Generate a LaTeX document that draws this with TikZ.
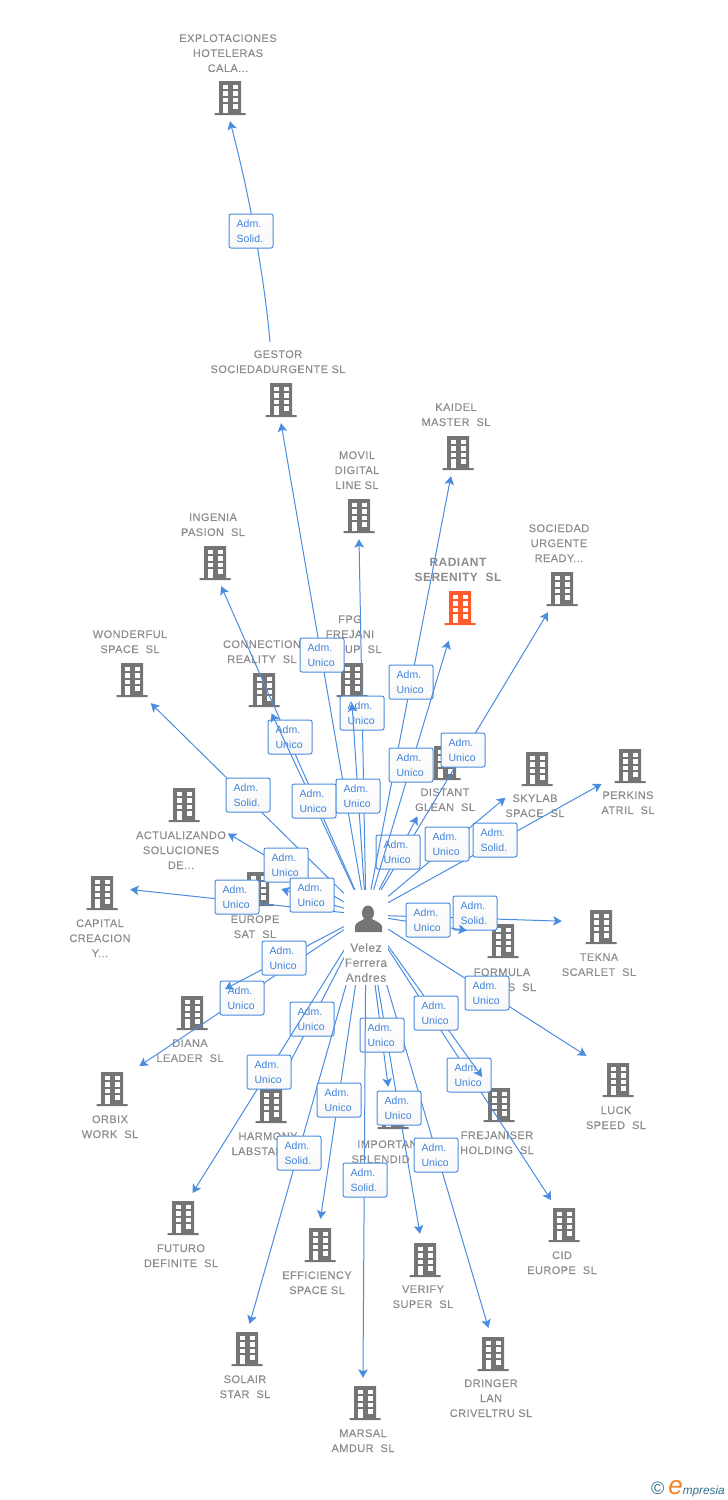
\documentclass[tikz,border=0pt]{standalone}
\usepackage{fontspec}
\usetikzlibrary{arrows.meta}
\setmainfont{Liberation Sans}
\newfontfamily\namefont[LetterSpace=4,FakeBold=0.12]{Liberation Sans}
\newfontfamily\radiantfont[LetterSpace=4]{Liberation Sans}
\newfontfamily\boxfont[LetterSpace=1]{Liberation Sans}
\definecolor{linkblue}{HTML}{4A8CE0}
\definecolor{boxtext}{HTML}{3F83DC}
\definecolor{namegray}{HTML}{8C8C8C}
\definecolor{iconorange}{HTML}{FF5A2C}
\definecolor{icongray}{HTML}{757575}
\definecolor{logoteal}{HTML}{2F6E8E}
\definecolor{logoorange}{HTML}{F58220}
\tikzset{
  building/.style={rectangle,minimum width=46pt,minimum height=46pt,inner sep=0pt,
    path picture={
      \begin{scope}[shift={(path picture bounding box.center)}]
        \fill[#1] (-11,-17) rectangle (11,15) (-15.5,15) rectangle (15.5,17);
        \foreach \wy in {-13.5,-7,-0.5,6}
          \foreach \wx in {-7.5,2.5}
            \fill[white] (\wx,\wy) rectangle ++(5,4.5);
        \fill[white] (-7.5,6) rectangle (-2.5,15);
      \end{scope}
    }},
  building/.default=icongray,
  namelabel/.style={font=\namefont\fontsize{11}{15}\selectfont,text=namegray,align=center,inner sep=0pt,yshift=-0.2pt},
  link/.style={draw=linkblue,line width=1pt,-{Stealth[length=8.5pt,width=9.5pt,inset=2pt]}},
  admbox/.style={rectangle,rounded corners=2pt,draw=linkblue,line width=1pt,top color=white,bottom color=black!3,
    minimum height=34pt,text width=29pt,inner xsep=7.5pt,inner ysep=0pt,align=left,text=boxtext,
    font=\boxfont\fontsize{10.5}{15}\selectfont},
}
\begin{document}
\begin{tikzpicture}[x=1pt,y=-1pt]
    \useasboundingbox (0,0) rectangle (728,1500);

    % companies
    \node[building] (explotaciones) at (230,98) {};
    \node[building] (gestor) at (281,400) {};
    \node[building] (kaidel) at (458,453) {};
    \node[building] (movil) at (359,516) {};
    \node[building] (ingenia) at (215,563) {};
    \node[building=iconorange] (radiant) at (460,608) {};
    \node[building] (sociedad) at (562,589) {};
    \node[building] (wonderful) at (132,680) {};
    \node[building] (connection) at (264,690) {};
    \node[building] (fpg) at (352,680) {};
    \node[building] (distant) at (445,763) {};
    \node[building] (skylab) at (537,769) {};
    \node[building] (perkins) at (630,766) {};
    \node[building] (actualizando) at (184,805) {};
    \node[building] (capital) at (102,893) {};
    \node[building] (europe) at (258,889) {};
    \node[building] (formula) at (503,941) {};
    \node[building] (tekna) at (601,927) {};
    \node[building] (diana) at (192,1013) {};
    \node[building] (orbix) at (112,1089) {};
    \node[building] (luck) at (618,1080) {};
    \node[building] (harmony) at (271,1106) {};
    \node[building] (frejaniser) at (499,1105) {};
    \node[building] (important) at (393,1112) {};
    \node[building] (futuro) at (183,1218) {};
    \node[building] (efficiency) at (320,1245) {};
    \node[building] (verify) at (425,1260) {};
    \node[building] (cid) at (564,1225) {};
    \node[building] (solair) at (247,1349) {};
    \node[building] (dringer) at (493,1354) {};
    \node[building] (marsal) at (365,1403) {};

    \node[namelabel] (explotacionesname) at (228,53) {EXPLOTACIONES\\HOTELERAS\\CALA...};
    \node[namelabel] (gestorname) at (278,361.5) {GESTOR\\SOCIEDADURGENTE~SL};
    \node[namelabel] (kaidelname) at (456,414.5) {KAIDEL\\MASTER~~SL};
    \node[namelabel] (movilname) at (357,470) {MOVIL\\DIGITAL\\LINE~SL};
    \node[namelabel] (ingenianame) at (213,524.5) {INGENIA\\PASION~~SL};
    \node[namelabel,font=\radiantfont\bfseries\fontsize{12}{15}\selectfont] (radiantname) at (458,569.5) {RADIANT\\SERENITY~~SL};
    \node[namelabel] (sociedadname) at (559,543) {SOCIEDAD\\URGENTE\\READY...};
    \node[namelabel] (wonderfulname) at (130,641.5) {WONDERFUL\\SPACE~~SL};
    \node[namelabel] (connectionname) at (262,651.5) {CONNECTION\\REALITY~~SL};
    \node[namelabel] (fpgname) at (350,634) {FPG\\FREJANI\\GROUP~~SL};
    \node[namelabel] (distantname) at (445,799.5) {DISTANT\\GLEAN~~SL};
    \node[namelabel] (skylabname) at (535,805.5) {SKYLAB\\SPACE~~SL};
    \node[namelabel] (perkinsname) at (628,802.5) {PERKINS\\ATRIL~~SL};
    \node[namelabel] (actualizandoname) at (181,850) {ACTUALIZANDO\\SOLUCIONES\\DE...};
    \node[namelabel] (capitalname) at (100,938) {CAPITAL\\CREACION\\Y...};
    \node[namelabel] (europename) at (255,926.5) {EUROPE\\SAT~~SL};
    \node[namelabel] (formulaname) at (502,979.5) {FORMULA\\TRENDS~~SL};
    \node[namelabel] (teknaname) at (599,964.5) {TEKNA\\SCARLET~~SL};
    \node[namelabel] (diananame) at (190,1050.5) {DIANA\\LEADER~~SL};
    \node[namelabel] (orbixname) at (110,1126.5) {ORBIX\\WORK~~SL};
    \node[namelabel] (luckname) at (616,1117.5) {LUCK\\SPEED~~SL};
    \node[namelabel] (harmonyname) at (268,1143.5) {HARMONY\\LABSTAR~~SL};
    \node[namelabel] (frejanisername) at (497,1142.5) {FREJANISER\\HOLDING~~SL};
    \node[namelabel] (importantname) at (391,1151.5) {IMPORTANT\\SPLENDID~~SL};
    \node[namelabel] (futuroname) at (181,1255.5) {FUTURO\\DEFINITE~~SL};
    \node[namelabel] (efficiencyname) at (317,1282.5) {EFFICIENCY\\SPACE~SL};
    \node[namelabel] (verifyname) at (423,1296.5) {VERIFY\\SUPER~~SL};
    \node[namelabel] (cidname) at (562,1262.5) {CID\\EUROPE~~SL};
    \node[namelabel] (solairname) at (245,1386.5) {SOLAIR\\STAR~~SL};
    \node[namelabel] (dringername) at (491,1398) {DRINGER\\LAN\\CRIVELTRU~SL};
    \node[namelabel] (marsalname) at (363,1440.5) {MARSAL\\AMDUR~~SL};

    \node[rectangle,minimum width=44pt,minimum height=50pt,inner sep=0pt] (velez) at (366,915) {};

    % links, each one with its box on top
    \coordinate (gestortop) at (270,342);
    \draw[link] (gestortop) .. controls (265,285) and (252,205) .. (explotaciones.south);
    \node[admbox] (explotacionesbox) at (251,231) {Adm.\\Solid.};

    \draw[link] (velez) -- (gestor.south);
    \node[admbox] (gestorbox) at (322,655) {Adm.\\Unico};
    \draw[link] (velez) -- (movil.south);
    \node[admbox] (movilbox) at (362,713) {Adm.\\Unico};
    \draw[link] (velez) -- (ingenia.285);
    \node[admbox] (ingeniabox) at (290,737) {Adm.\\Unico};
    \draw[link] (velez) -- (connection.288);
    \node[admbox] (connectionbox) at (314,801) {Adm.\\Unico};
    \draw[link] (velez) -- (fpg.south);
    \node[admbox] (fpgbox) at (358,796) {Adm.\\Unico};
    \draw[link] (velez) -- (wonderful.309);
    \node[admbox] (wonderfulbox) at (248,795) {Adm.\\Solid.};

    \draw[link] (velez) -- (sociedad.239);
    \node[admbox] (sociedadbox) at (463,750) {Adm.\\Unico};
    \draw[link,shorten >=34pt] (velez) -- (distant.243);
    \node[admbox] (distantbox) at (398,852) {Adm.\\Unico};
    \draw[link] (velez) -- (kaidel.253);
    \node[admbox] (kaidelbox) at (411,682) {Adm.\\Unico};
    \draw[link,shorten >=10pt] (velez) -- (radiant.250);
    \node[admbox] (radiantbox) at (411,765) {Adm.\\Unico};
    \draw[link,shorten >=6pt] (velez) -- (perkins.213);
    \node[admbox] (perkinsbox) at (495,840) {Adm.\\Solid.};
    \draw[link,shorten >=11pt] (velez) -- (skylab.223);
    \node[admbox] (skylabbox) at (447,844) {Adm.\\Unico};

    \draw[link,shorten >=24pt] (velez) -- (actualizando.325);
    \node[admbox] (actualizandobox) at (286,865) {Adm.\\Unico};
    \draw[link,shorten >=5pt] (velez) -- (capital.10);
    \node[admbox] (capitalbox) at (237,897) {Adm.\\Unico};
    \draw[link] (velez) -- (europe.east);
    \node[admbox] (europebox) at (312,895) {Adm.\\Unico};

    \draw[link,shorten >=16pt] (velez) -- (tekna.167);
    \node[admbox] (teknabox) at (475,913) {Adm.\\Solid.};
    \draw[link,shorten >=13pt] (velez) -- (formula.160);
    \node[admbox] (formulabox) at (428,920) {Adm.\\Unico};
    \draw[link,shorten >=10pt] (velez) -- (luck.141);
    \node[admbox] (luckbox) at (487,993) {Adm.\\Unico};
    \draw[link,shorten >=2pt] (velez) -- (cid.117);
    \node[admbox] (cidbox) at (469,1075) {Adm.\\Unico};
    \draw[link,shorten >=6pt] (velez) -- (frejaniser.120);
    \node[admbox] (frejaniserbox) at (436,1013) {Adm.\\Unico};

    \draw[link,shorten >=5pt] (velez) -- (orbix.41);
    \node[admbox] (orbixbox) at (242,998) {Adm.\\Unico};
    \draw[link,shorten >=11pt] (velez) -- (diana.39);
    \node[admbox] (dianabox) at (284,958) {Adm.\\Unico};
    \draw[link] (velez) -- (harmony.70);
    \node[admbox] (harmonybox) at (312,1019) {Adm.\\Unico};
    \draw[link,shorten >=2pt] (velez) -- (futuro.70);
    \node[admbox] (futurobox) at (269,1072) {Adm.\\Unico};
    \draw[link,shorten >=2pt] (velez) -- (solair.85);
    \node[admbox] (solairbox) at (299,1153) {Adm.\\Solid.};
    \draw[link,shorten >=3pt] (velez) -- (efficiency.north);
    \node[admbox] (efficiencybox) at (339,1100) {Adm.\\Unico};
    \draw[link,shorten >=3pt] (velez) -- (dringer.99);
    \node[admbox] (dringerbox) at (436,1155) {Adm.\\Unico};
    \draw[link,shorten >=3pt] (velez) -- (verify.101);
    \node[admbox] (verifybox) at (399,1108) {Adm.\\Unico};
    \draw[link,shorten >=2pt] (velez) -- (important.101);
    \node[admbox] (importantbox) at (382,1035) {Adm.\\Unico};
    \draw[link,shorten >=2pt] (velez) -- (marsal.95);
    \node[admbox] (marsalbox) at (365,1180) {Adm.\\Solid.};

    % person
    \fill[icongray] (368,913) ellipse (6pt and 7.5pt);
    \fill[icongray] (355,932) -- (355,926) .. controls (356,922) and (361,921) .. (364,919) -- (372,919) .. controls (375,921) and (380,922) .. (382,926) -- (382,932) -- cycle;
    \node[rectangle,fill=white,minimum width=44pt,minimum height=45pt,inner sep=0pt,text=namegray,align=center,
      font=\namefont\fontsize{12}{15}\selectfont] (velezname) at (366,962.5) {Velez\\Ferrera\\Andres};

    % logo
    \node[inner sep=0pt,anchor=east] (logo) at (725,1489) {\textcolor{logoteal}{\fontsize{18}{18}\selectfont\copyright}\hspace{4pt}\textcolor{logoorange}{\fontsize{26}{22}\selectfont\itshape e}\textcolor{logoteal}{\fontsize{11.8}{11}\selectfont\itshape mpresia}};
\end{tikzpicture}
\end{document}
